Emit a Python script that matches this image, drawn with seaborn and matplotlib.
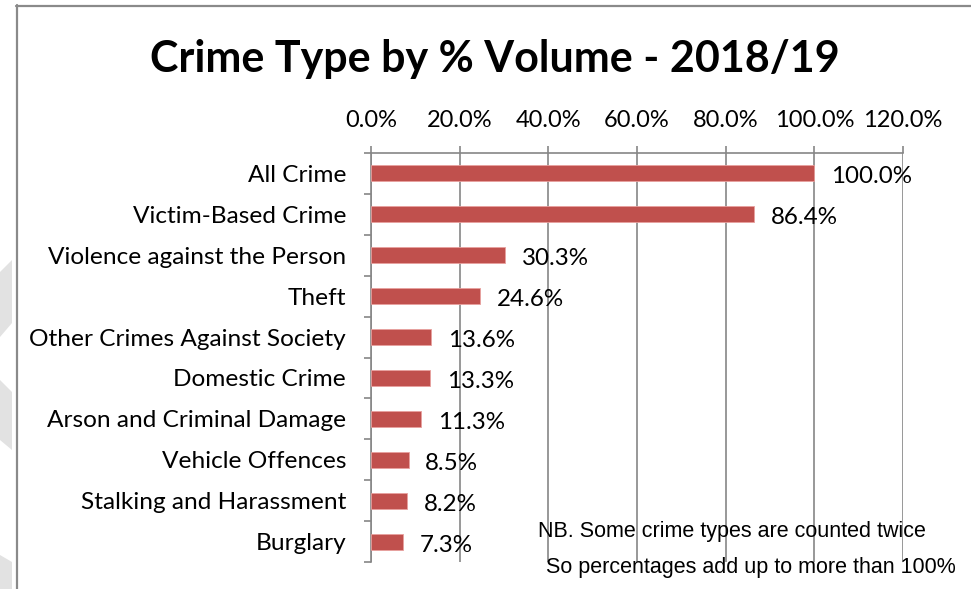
import matplotlib
matplotlib.use("Agg")
import matplotlib.pyplot as plt
import seaborn as sns
import pandas as pd
from matplotlib.patches import Polygon
from matplotlib.lines import Line2D

categories = ["All Crime", "Victim-Based Crime", "Violence against the Person", "Theft",
              "Other Crimes Against Society", "Domestic Crime", "Arson and Criminal Damage",
              "Vehicle Offences", "Stalking and Harassment", "Burglary"]
values = [100.0, 86.4, 30.3, 24.6, 13.6, 13.3, 11.3, 8.5, 8.2, 7.3]
xticks = [0, 20, 40, 60, 80, 100, 120]
xtick_labels = ["0.0%", "20.0%", "40.0%", "60.0%", "80.0%", "100.0%", "120.0%"]
title = "Crime Type by % Volume - 2018/19"
note1 = "NB. Some crime types are counted twice"
note2 = "So percentages add up to more than 100%"

sns.set_theme(style="white")
plt.rcParams["font.family"] = ["Lato", "DejaVu Sans"]

W, H = 971, 589
fig = plt.figure(figsize=(W / 100, H / 100), dpi=100)
fig.patch.set_facecolor("white")

def fx(px):
    return px / W

def fy(py):
    return 1 - py / H

# decorative background shapes on the left
for pts in [[(0, 272), (12, 260), (12, 323), (0, 337)],
            [(0, 380), (12, 392), (12, 450), (0, 440)],
            [(0, 555), (12, 562), (12, 589), (0, 589)]]:
    fig.patches.append(Polygon([(fx(x), fy(y)) for x, y in pts], closed=True,
                               transform=fig.transFigure, facecolor="#e2e2e2",
                               edgecolor="none", zorder=0))
# chart border
fig.lines.append(Line2D([fx(16.5), fx(16.5)], [fy(5), fy(600)], transform=fig.transFigure,
                        color="#8a8a8a", lw=1.6))
fig.lines.append(Line2D([fx(16), fx(980)], [fy(5.5), fy(5.5)], transform=fig.transFigure,
                        color="#8a8a8a", lw=1.6))

ax = fig.add_axes([fx(371), fy(562), fx(903) - fx(371), (562 - 153) / H])
df = pd.DataFrame({"category": categories, "value": values})
sns.barplot(data=df, x="value", y="category", orient="h", color="#C0504D",
            saturation=1, width=0.39, edgecolor="#E8A09E", linewidth=0.6, ax=ax, zorder=3)

ax.set_xlim(0, 120)
ax.set_ylim(len(categories) - 0.5, -0.5)
ax.set_xticks(xticks)
ax.set_xticklabels(xtick_labels)
ax.xaxis.tick_top()
ax.set_xlabel("")
ax.set_ylabel("")
ax.grid(axis="x", color="#868686", lw=1.2, zorder=0)
ax.grid(axis="y", visible=False)
for s in ["right", "bottom"]:
    ax.spines[s].set_visible(False)
for s in ["top", "left"]:
    ax.spines[s].set_color("#868686")
    ax.spines[s].set_linewidth(1.2)

ax.tick_params(axis="x", which="major", top=True, bottom=False, length=5, width=1.2,
               color="#868686", pad=11, labelsize=17, labelcolor="black")
# category boundary ticks on the left
ax.set_yticks(range(len(categories)))
ax.set_yticklabels(categories)
ax.tick_params(axis="y", which="major", left=False, length=0, pad=18, labelsize=17.6,
               labelcolor="black")
ax.set_yticks([i + 0.5 for i in range(-1, len(categories))], minor=True)
ax.tick_params(axis="y", which="minor", left=True, length=5, width=1.2, color="#868686")

for c in ax.containers:
    texts = ax.bar_label(c, labels=[f"{v:.1f}%" for v in values], padding=12,
                         fontsize=17.4, color="black")
    for t in texts:
        t.xyann = (12, -2.5)

fig.text(0.51, fy(59), title, ha="center", va="center", fontsize=31, fontweight="bold",
         color="black")
fig.text(fx(538), fy(532), note1, ha="left", va="center", fontsize=15.5,
         family=["Liberation Sans", "DejaVu Sans"], color="black")
fig.text(fx(546), fy(567), note2, ha="left", va="center", fontsize=15.5,
         family=["Liberation Sans", "DejaVu Sans"], color="black")

fig.savefig("out.png", dpi=100, facecolor="white")
